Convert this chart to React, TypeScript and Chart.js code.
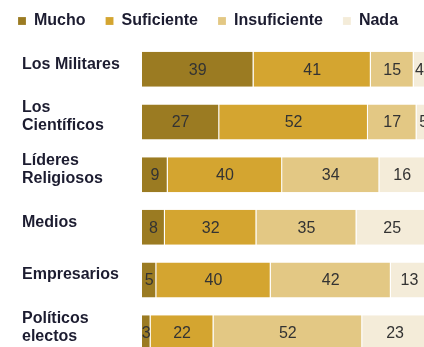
import React, { useEffect, useRef } from "react";
import { Chart, registerables } from "chart.js";

Chart.register(...registerables);

const categories: string[][] = [
  ["Los Militares"],
  ["Los", "Científicos"],
  ["Líderes", "Religiosos"],
  ["Medios"],
  ["Empresarios"],
  ["Políticos", "electos"],
];
const seriesNames = ["Mucho", "Suficiente", "Insuficiente", "Nada"];
const mucho = [39, 27, 9, 8, 5, 3];
const suficiente = [41, 52, 40, 32, 40, 22];
const insuficiente = [15, 17, 34, 35, 42, 52];
const nada = [4, 5, 16, 25, 13, 23];
const colors = ["#9b7b22", "#d4a530", "#e3c884", "#f4ecd9"];

const FONT = "'Liberation Sans', Arial, sans-serif";

const valueLabels = {
  id: "valueLabels",
  afterDatasetsDraw(chart: any) {
    const ctx = chart.ctx;
    ctx.save();
    ctx.font = `16px ${FONT}`;
    ctx.fillStyle = "#333333";
    ctx.textAlign = "center";
    ctx.textBaseline = "middle";
    chart.data.datasets.forEach((ds: any, di: number) => {
      const meta = chart.getDatasetMeta(di);
      meta.data.forEach((el: any, i: number) => {
        const p = el.getCenterPoint();
        ctx.fillText(String(ds.data[i]), p.x, p.y + 1);
      });
    });
    ctx.restore();
  },
};

const categoryLabels = {
  id: "categoryLabels",
  afterDraw(chart: any) {
    const ctx = chart.ctx;
    const yScale = chart.scales.y;
    ctx.save();
    ctx.font = `bold 16px ${FONT}`;
    ctx.fillStyle = "#1c1c30";
    ctx.textAlign = "left";
    ctx.textBaseline = "middle";
    const lh = 18;
    categories.forEach((lines, i) => {
      const cy = yScale.getPixelForValue(i) - 5;
      const start = cy - ((lines.length - 1) * lh) / 2;
      lines.forEach((ln, k) => ctx.fillText(ln, 24, start + k * lh));
    });
    ctx.restore();
  },
};

export default function App() {
  const ref = useRef<HTMLCanvasElement>(null);
  useEffect(() => {
    if (!ref.current) return;
    const data = [mucho, suficiente, insuficiente, nada];
    const chart = new Chart(ref.current, {
      type: "bar",
      data: {
        labels: categories.map((c) => c.join(" ")),
        datasets: seriesNames.map((name, i) => ({
          label: name,
          data: data[i],
          backgroundColor: colors[i],
          borderColor: "rgba(255,255,255,0.7)",
          borderWidth: { top: 0, right: 1, bottom: 0, left: 0 },
          borderSkipped: false,
          barPercentage: 0.665,
          categoryPercentage: 1,
        })),
      },
      options: {
        indexAxis: "y",
        responsive: false,
        animation: false,
        devicePixelRatio: 1,
        layout: { padding: { left: 0, right: 2, top: 0, bottom: 3 } },
        plugins: {
          legend: {
            display: true,
            position: "top",
            align: "start",
            labels: {
              boxWidth: 8,
              boxHeight: 8,
              padding: 20,
              color: "#1c1c30",
              font: { family: FONT, size: 16, weight: "bold" },
            },
          },
          tooltip: { enabled: false },
        },
        scales: {
          x: {
            stacked: true,
            min: 0,
            max: 100,
            position: "top",
            display: true,
            grid: { display: false },
            border: { display: false },
            ticks: { display: false },
            afterFit: (scale: any) => {
              scale.height = 4;
            },
          },
          y: {
            stacked: true,
            grid: { display: false },
            border: { display: false },
            ticks: { display: false },
            afterFit: (scale: any) => {
              scale.width = 144;
            },
          },
        },
      } as any,
      plugins: [valueLabels, categoryLabels],
    });
    return () => chart.destroy();
  }, []);

  return (
    <div
      style={{
        position: "fixed",
        left: 0,
        top: 0,
        width: 424,
        height: 347,
        overflow: "hidden",
        background: "#ffffff",
      }}
    >
      <canvas
        ref={ref}
        width={432}
        height={369}
        style={{ position: "absolute", left: -2, top: -7, width: 432, height: 369 }}
      />
    </div>
  );
}
